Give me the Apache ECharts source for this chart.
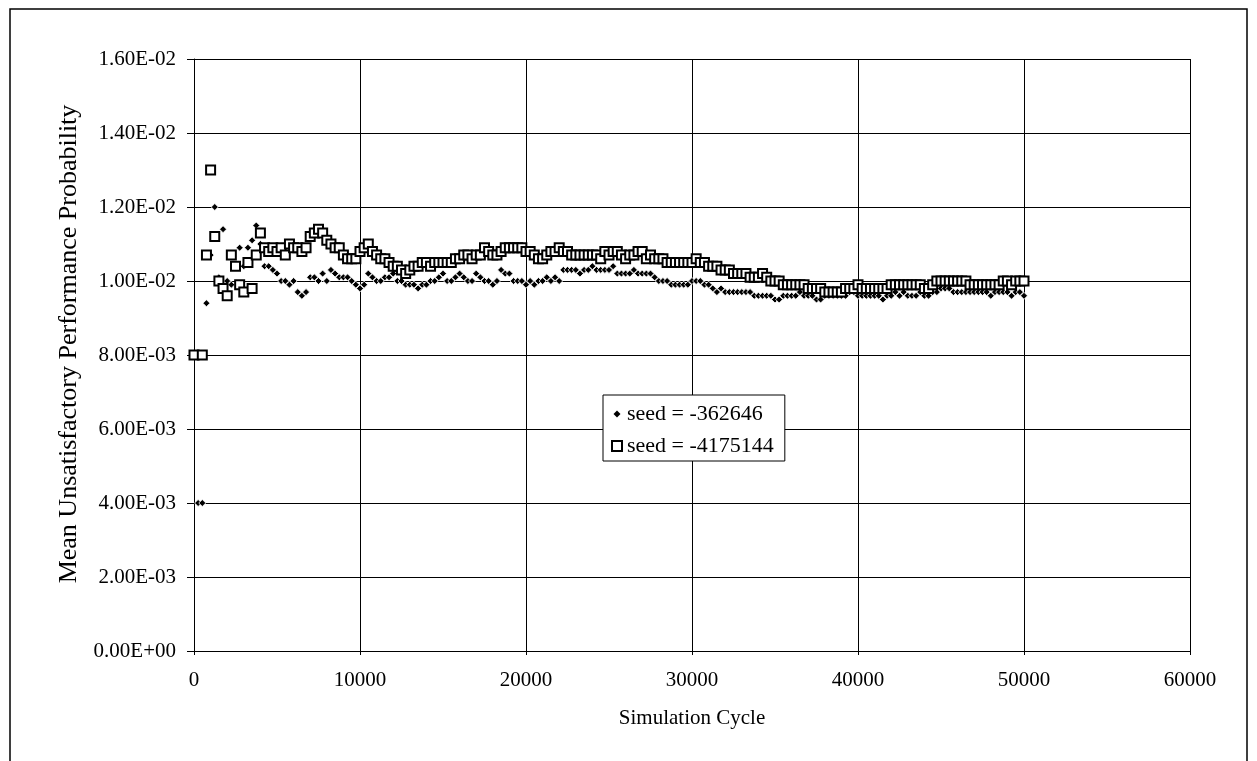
<!DOCTYPE html>
<html>
<head>
<meta charset="utf-8">
<script src="https://cdn.jsdelivr.net/npm/echarts@6/dist/echarts.min.js"></script>
<style>
  html, body { margin: 0; padding: 0; background: #fff; }
  #chart { width: 1257px; height: 761px; }
</style>
</head>
<body>
<div id="chart"></div>
<script>
// Sampling step of the simulation (cycles between recorded means)
const cycleStep = 250;

// x-axis tick values
const xTicks = [0, 10000, 20000, 30000, 40000, 50000, 60000];
// y-axis tick values
const yTicks = [0, 0.002, 0.004, 0.006, 0.008, 0.010, 0.012, 0.014, 0.016];

const seriesNames = ['seed = -362646', 'seed = -4175144'];

// seed = -362646 (filled diamonds), one value per 250 cycles starting at cycle 0
const seedA = [
  null, 0.0040, 0.0040, 0.0094, 0.0107, 0.0120, 0.0101, 0.0114, 0.0100, 0.0099,
  0.0104, 0.0109, 0.0104, 0.0109, 0.0111, 0.0115, 0.0110, 0.0104, 0.0104, 0.0103,
  0.0102, 0.0100, 0.0100, 0.0099, 0.0100, 0.0097, 0.0096, 0.0097,
  0.0101, 0.0101, 0.0100, 0.0102, 0.0100, 0.0103, 0.0102, 0.0101, 0.0101, 0.0101,
  0.0100, 0.0099, 0.0098, 0.0099, 0.0102, 0.0101, 0.0100, 0.0100, 0.0101, 0.0101,
  0.0102, 0.0100, 0.0100, 0.0099, 0.0099, 0.0099, 0.0098, 0.0099, 0.0099, 0.0100,
  0.0100, 0.0101, 0.0102, 0.0100, 0.0100, 0.0101, 0.0102, 0.0101,
  0.0100, 0.0100, 0.0102, 0.0101, 0.0100, 0.0100, 0.0099, 0.0100, 0.0103, 0.0102,
  0.0102, 0.0100, 0.0100, 0.0100, 0.0099, 0.0100, 0.0099, 0.0100, 0.0100, 0.0101,
  0.0100, 0.0101, 0.0100, 0.0103, 0.0103, 0.0103, 0.0103, 0.0102, 0.0103, 0.0103,
  0.0104, 0.0103, 0.0103, 0.0103, 0.0103, 0.0104, 0.0102, 0.0102, 0.0102, 0.0102,
  0.0103, 0.0102, 0.0102, 0.0102, 0.0102, 0.0101, 0.0100, 0.0100, 0.0100, 0.0099,
  0.0099, 0.0099, 0.0099, 0.0099, 0.0100, 0.0100, 0.0100, 0.0099, 0.0099, 0.0098,
  0.0097, 0.0098, 0.0097, 0.0097, 0.0097, 0.0097, 0.0097, 0.0097, 0.0097, 0.0096,
  0.0096, 0.0096, 0.0096, 0.0096, 0.0095, 0.0095, 0.0096, 0.0096, 0.0096, 0.0096,
  0.0097, 0.0096, 0.0096, 0.0096, 0.0095, 0.0095, 0.0096, 0.0096, 0.0096, 0.0096,
  0.0096, 0.0096, 0.0097, 0.0097, 0.0096, 0.0096, 0.0096, 0.0096, 0.0096, 0.0096,
  0.0095, 0.0096, 0.0096, 0.0097, 0.0096, 0.0097, 0.0096, 0.0096, 0.0096, 0.0097,
  0.0096, 0.0096, 0.0097, 0.0097, 0.0098, 0.0098, 0.0098, 0.0097, 0.0097, 0.0097,
  0.0097, 0.0097, 0.0097, 0.0097, 0.0097, 0.0097, 0.0096, 0.0097, 0.0097, 0.0097,
  0.0097, 0.0096, 0.0097, 0.0097, 0.0096
];

// seed = -4175144 (hollow squares), one value per 250 cycles starting at cycle 0
const seedB = [
  0.0080, null, 0.0080, 0.0107, 0.0130, 0.0112, 0.0100, 0.0098, 0.0096, 0.0107,
  0.0104, 0.0099, 0.0097, 0.0105, 0.0098, 0.0107, 0.0113, 0.0109, 0.0108, 0.0109,
  0.0108, 0.0109, 0.0107, 0.0110, 0.0109, 0.0109, 0.0108, 0.0109, 0.0112, 0.0113,
  0.0114, 0.0113, 0.0111, 0.0110, 0.0109, 0.0109, 0.0107, 0.0106, 0.0106, 0.0106,
  0.0108, 0.0109, 0.0110, 0.0108, 0.0107, 0.0106, 0.0106, 0.0105, 0.0104, 0.0104,
  0.0103, 0.0102, 0.0103, 0.0104, 0.0104, 0.0105, 0.0105, 0.0104, 0.0105, 0.0105,
  0.0105, 0.0105, 0.0105, 0.0106, 0.0106, 0.0107,
  0.0107, 0.0106, 0.0107, 0.0107, 0.0109, 0.0108, 0.0107, 0.0107, 0.0108, 0.0109,
  0.0109, 0.0109, 0.0109, 0.0109, 0.0108, 0.0108, 0.0107, 0.0106, 0.0106, 0.0107,
  0.0108, 0.0108, 0.0109, 0.0108, 0.0108, 0.0107, 0.0107, 0.0107, 0.0107, 0.0107,
  0.0107, 0.0107, 0.0106, 0.0108, 0.0107, 0.0108, 0.0108, 0.0107, 0.0106, 0.0107,
  0.0107, 0.0108, 0.0108, 0.0106, 0.0107, 0.0106, 0.0106, 0.0106, 0.0105, 0.0105,
  0.0105, 0.0105, 0.0105, 0.0105, 0.0105, 0.0106, 0.0105, 0.0105, 0.0104, 0.0104,
  0.0104, 0.0103, 0.0103, 0.0103, 0.0102, 0.0102, 0.0102, 0.0102, 0.0101, 0.0101,
  0.0101, 0.0102, 0.0101, 0.0100, 0.0100, 0.0100, 0.0099, 0.0099, 0.0099, 0.0099,
  0.0099, 0.0099, 0.0098, 0.0098, 0.0098, 0.0098, 0.0097, 0.0097, 0.0097, 0.0097,
  0.0097, 0.0098, 0.0098, 0.0098, 0.0099, 0.0098, 0.0098, 0.0098, 0.0098, 0.0098,
  0.0098, 0.0098, 0.0099, 0.0099, 0.0099, 0.0099, 0.0099, 0.0099, 0.0099, 0.0099,
  0.0098, 0.0098, 0.0099, 0.0100, 0.0100, 0.0100, 0.0100, 0.0100, 0.0100, 0.0100,
  0.0100, 0.0099, 0.0099, 0.0099, 0.0099, 0.0099, 0.0099, 0.0099, 0.0099, 0.0100,
  0.0100, 0.0099, 0.0100, 0.0100, 0.0100
];

function toPoints(values) {
  const pts = [];
  values.forEach((v, i) => { if (v !== null) pts.push([i * cycleStep, v]); });
  return pts;
}

function sciLabel(v) {
  if (Math.abs(v) < 1e-12) return '0.00E+00';
  const parts = v.toExponential(2).split('e');
  const n = parseInt(parts[1], 10);
  return parts[0] + 'E' + (n < 0 ? '-' : '+') + String(Math.abs(n)).padStart(2, '0');
}

const serif = "'Liberation Serif', 'Times New Roman', serif";
const chart = echarts.init(document.getElementById('chart'), null, { renderer: 'canvas' });

chart.setOption({
  animation: false,
  backgroundColor: '#fff',
  textStyle: { fontFamily: serif, color: '#000' },
  graphic: [{
    type: 'rect', silent: true, z: -1,
    shape: { x: 10, y: 9, width: 1237, height: 800 },
    style: { fill: 'none', stroke: '#000', lineWidth: 1.5 }
  }],
  grid: { left: 194, right: 67, top: 59, bottom: 110, containLabel: false },
  legend: {
    orient: 'vertical',
    left: 603, top: 395,
    padding: [8, 11, 4, 8],
    itemGap: 10,
    itemWidth: 10, itemHeight: 10,
    selectedMode: false,
    backgroundColor: '#fff',
    borderColor: '#000', borderWidth: 1,
    textStyle: { fontFamily: serif, fontSize: 22, color: '#000' },
    data: [
      { name: seriesNames[0], icon: 'path://M0,0M10,10M5,1.5L8.5,5L5,8.5L1.5,5Z',
        itemStyle: { color: '#000', borderWidth: 0 } },
      { name: seriesNames[1], icon: 'rect' }
    ]
  },
  xAxis: {
    type: 'value',
    min: xTicks[0], max: xTicks[xTicks.length - 1], interval: 10000,
    name: 'Simulation Cycle',
    nameLocation: 'middle', nameGap: 57,
    nameTextStyle: { fontFamily: serif, fontSize: 21, color: '#000' },
    axisLine: { show: true, lineStyle: { color: '#000', width: 1 } },
    axisTick: { show: true, length: 4, lineStyle: { color: '#000' } },
    axisLabel: { margin: 19, fontFamily: serif, fontSize: 21, color: '#000',
      formatter: v => String(Math.round(v)) },
    splitLine: { show: true, lineStyle: { color: '#000', width: 1 } }
  },
  yAxis: {
    type: 'value',
    min: yTicks[0], max: yTicks[yTicks.length - 1], interval: 0.002,
    name: 'Mean Unsatisfactory Performance Probability',
    nameLocation: 'middle', nameGap: 112,
    nameTextStyle: { fontFamily: serif, fontSize: 26, color: '#000', padding: [0, 0, 0, 22] },
    axisLine: { show: true, lineStyle: { color: '#000', width: 1 } },
    axisTick: { show: true, length: 7, lineStyle: { color: '#000' } },
    axisLabel: { margin: 18, fontFamily: serif, fontSize: 21, color: '#000', formatter: sciLabel },
    splitLine: { show: true, lineStyle: { color: '#000', width: 1 } }
  },
  series: [
    {
      name: seriesNames[0],
      type: 'scatter',
      symbol: 'diamond',
      symbolSize: 7,
      data: toPoints(seedA),
      itemStyle: { color: '#000', borderColor: '#fff', borderWidth: 0.8, opacity: 1 },
      z: 2
    },
    {
      name: seriesNames[1],
      type: 'scatter',
      symbol: 'rect',
      symbolSize: 9,
      data: toPoints(seedB),
      itemStyle: { color: '#fff', borderColor: '#000', borderWidth: 2, opacity: 1 },
      z: 3
    }
  ]
});
</script>
</body>
</html>
